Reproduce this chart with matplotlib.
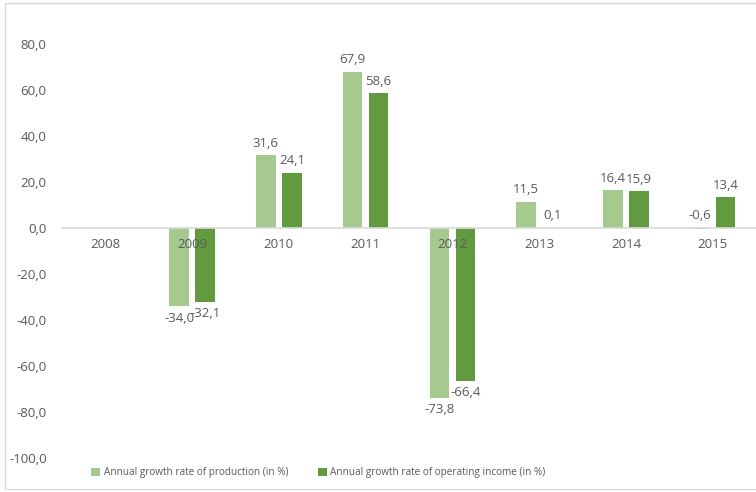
import numpy as np
import matplotlib.pyplot as plt
from matplotlib.patches import Rectangle

anos = ['2008', '2009', '2010', '2011', '2012', '2013', '2014', '2015']
producao = [np.nan, -34.0, 31.6, 67.9, -73.8, 11.5, 16.4, -0.6]
receita = [np.nan, -32.1, 24.1, 58.6, -66.4, 0.1, 15.9, 13.4]
nomes = ['Annual growth rate of production (in %)',
         'Annual growth rate of operating income (in %)']

cor_clara = '#a5c98e'
cor_escura = '#629b3f'
cinza = '#595959'

plt.rcParams['font.family'] = ['Open Sans', 'DejaVu Sans']

fig = plt.figure(figsize=(7.56, 4.92), dpi=100)
ax = fig.add_axes([62 / 756, 1 - 458 / 492, 1 - 62 / 756, 437 / 492])

x = np.arange(len(anos))
w = 0.225
b1 = ax.bar(x - 0.15, producao, w, color=cor_clara, label=nomes[0])
b2 = ax.bar(x + 0.15, receita, w, color=cor_escura, label=nomes[1])


def fmt(v):
    return f'{v:.1f}'.replace('.', ',')


# rótulos: valores negativos muito pequenos vão acima da linha do zero
for barras, vals in [(b1, producao), (b2, receita)]:
    normais = []
    for barra, v in zip(barras, vals):
        if np.isnan(v):
            normais.append('')
        elif -1 < v < 0:
            normais.append('')
            ax.annotate(fmt(v), (barra.get_x() + barra.get_width() / 2, 0),
                        xytext=(0, 4), textcoords='offset points',
                        ha='center', va='bottom', fontsize=9.5, color=cinza)
        else:
            normais.append(fmt(v))
    ax.bar_label(barras, labels=normais, padding=4, fontsize=9.5, color=cinza)

ax.set_xlim(-0.5, len(anos) - 0.5)
ax.set_ylim(-100, 90)
ax.set_yticks(range(-100, 81, 20))
ax.set_yticklabels([fmt(v) for v in range(-100, 81, 20)])
ax.set_xticks(x)
ax.set_xticklabels(anos)

for s in ['top', 'right', 'left']:
    ax.spines[s].set_visible(False)
ax.spines['bottom'].set_position(('data', 0))
ax.spines['bottom'].set_color('#d9d9d9')
ax.spines['bottom'].set_linewidth(1.2)
ax.tick_params(axis='both', length=0, labelsize=9.5, labelcolor=cinza)
ax.tick_params(axis='x', pad=7)
ax.tick_params(axis='y', pad=11)

fig.legend(loc='center left', bbox_to_anchor=(82 / 756, 1 - 473 / 492), ncol=2,
           frameon=False, fontsize=7.2, handlelength=0.9, handleheight=0.9,
           handletextpad=0.4, columnspacing=2.9, labelcolor=cinza)

fig.patches.append(Rectangle((5 / 756, 3 / 492), 1, 486 / 492, transform=fig.transFigure,
                             fill=False, edgecolor='#d9d9d9', linewidth=1))

fig.savefig('out.png', dpi=100)
